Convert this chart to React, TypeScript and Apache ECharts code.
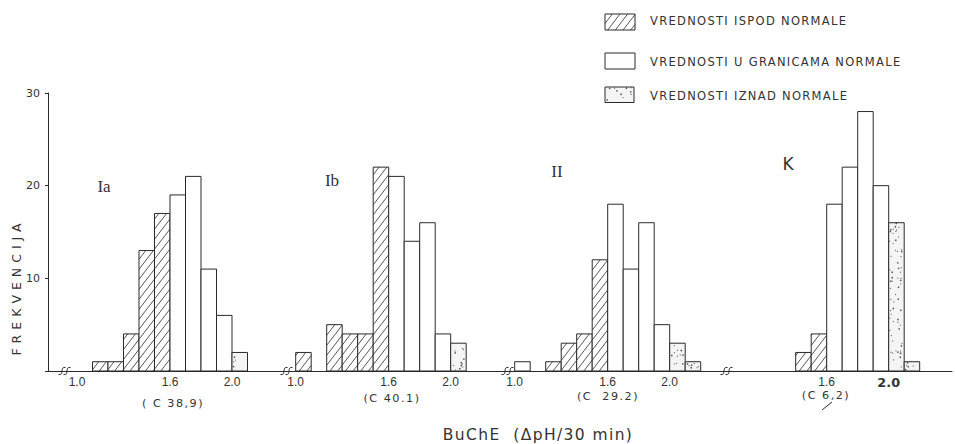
import React, { useEffect, useRef } from 'react';
import * as echarts from 'echarts';

// ---------- data ----------
const Y_TICK_VALUES = [0, 10, 20, 30];
const PANEL_NAMES = ['Ia', 'Ib', 'II', 'K'];
const PANEL_NOTES = ['( C 38,9)', '(C 40.1)', '(C  29.2)', '(C 6,2)'];
const X_TICKS_IA = [1.0, 1.6, 2.0];
const X_TICKS_IB = [1.0, 1.6, 2.0];
const X_TICKS_II = [1.0, 1.6, 2.0];
const X_TICKS_K = [1.6, 2.0];
const BIN_WIDTH = 0.1;
// class codes: 0 = below normal (hatched), 1 = within normal (white), 2 = above normal (stippled)
const BINS_IA = [1.0, 1.1, 1.2, 1.3, 1.4, 1.5, 1.6, 1.7, 1.8, 1.9, 2.0];
const FREQ_IA = [0, 1, 1, 4, 13, 17, 19, 21, 11, 6, 2];
const CLASS_IA = [0, 0, 0, 0, 0, 0, 1, 1, 1, 1, 2];
const BINS_IB = [1.0, 1.1, 1.2, 1.3, 1.4, 1.5, 1.6, 1.7, 1.8, 1.9, 2.0];
const FREQ_IB = [2, 0, 5, 4, 4, 22, 21, 14, 16, 4, 3];
const CLASS_IB = [0, 0, 0, 0, 0, 0, 1, 1, 1, 1, 2];
const BINS_II = [1.0, 1.1, 1.2, 1.3, 1.4, 1.5, 1.6, 1.7, 1.8, 1.9, 2.0, 2.1];
const FREQ_II = [1, 0, 1, 3, 4, 12, 18, 11, 16, 5, 3, 1];
const CLASS_II = [1, 0, 0, 0, 0, 0, 1, 1, 1, 1, 2, 2];
const BINS_K = [1.4, 1.5, 1.6, 1.7, 1.8, 1.9, 2.0, 2.1];
const FREQ_K = [2, 4, 18, 22, 28, 20, 16, 1];
const CLASS_K = [0, 0, 1, 1, 1, 1, 2, 2];
const LEGEND_LABELS = [
  'VREDNOSTI ISPOD NORMALE',
  'VREDNOSTI U GRANICAMA NORMALE',
  'VREDNOSTI IZNAD NORMALE',
];
const Y_NAME = 'FREKVENCIJA';
const X_NAME = 'BuChE  (ΔpH/30 min)';

// ---------- layout ----------
const W = 955;
const H = 444;
const GRID_TOP = 93;
const GRID_H = 278;
const BASE_Y = GRID_TOP + GRID_H;
const PX_PER_UNIT = 155;
const AXIS_LEFT = 48;
const AXIS_RIGHT = 952;
const PANEL_X16 = [170, 388.7, 607.7, 826.7];
const PANEL_LEFT = [AXIS_LEFT, 264.7, 483.7, 702.7];
const NAME_POS = [[104, 186], [332, 180], [557, 171], [788, 164]];
const NOTE_POS = [[173, 403], [392, 398], [608, 396], [826, 395]];
const BREAK_X = [62, 284, 505, 724];
const INK = '#2a2a2a';
const TXT = '#333';

const CSS = `
text[style*="11.5px"] { letter-spacing: 1.3px; }
text[style*="12.5px"] { letter-spacing: 5px; }
text[style*="15.5px"] { letter-spacing: 1.4px; }
text[style*="11.2px"] { letter-spacing: 1.5px; }
`;

function fract(v: number) {
  return v - Math.floor(v);
}

function hatchSegments(x0: number, y0: number, x1: number, y1: number, gap = 10, k = 1.3) {
  const segs: number[][] = [];
  const cMin = y0 + k * x0;
  const cMax = y1 + k * x1;
  for (let c = Math.ceil(cMin / gap) * gap; c < cMax; c += gap) {
    const xa = Math.max(x0, (c - y1) / k);
    const xb = Math.min(x1, (c - y0) / k);
    if (xb - xa > 0.3) segs.push([xa, c - k * xa, xb, c - k * xb]);
  }
  return segs;
}

function stipple(x0: number, y0: number, x1: number, y1: number) {
  const pts: number[][] = [];
  const step = 2.7;
  for (let yy = y0 + 1.6; yy < y1 - 1.2; yy += step) {
    for (let xx = x0 + 1.6; xx < x1 - 1.2; xx += step) {
      const h = fract(Math.sin(xx * 12.9898 + yy * 78.233) * 43758.5453);
      if (h < 0.38) {
        pts.push([xx + (fract(h * 91.7) - 0.5) * 2, yy + (fract(h * 53.3) - 0.5) * 2]);
      }
    }
  }
  return pts;
}

function patternChildren(cls: number, x0: number, y0: number, x1: number, y1: number) {
  const out: any[] = [];
  if (cls === 0) {
    hatchSegments(x0, y0, x1, y1).forEach((s) =>
      out.push({
        type: 'line',
        shape: { x1: s[0], y1: s[1], x2: s[2], y2: s[3] },
        style: { stroke: INK, lineWidth: 0.8 },
        silent: true,
      })
    );
  } else if (cls === 2) {
    stipple(x0, y0, x1, y1).forEach((p, j) =>
      out.push({
        type: 'circle',
        shape: { cx: p[0], cy: p[1], r: j % 3 === 0 ? 0.8 : 0.55 },
        style: { fill: '#555' },
        silent: true,
      })
    );
  }
  return out;
}

function renderBar(params: any, api: any) {
  const lo = api.value(0);
  const hi = api.value(1);
  const f = api.value(2);
  const cls = api.value(3);
  if (!f) return null;
  const p0 = api.coord([lo, f]);
  const p1 = api.coord([hi, 0]);
  const x0 = p0[0];
  const y0 = p0[1];
  const x1 = p1[0];
  const y1 = p1[1];
  const children: any[] = [
    {
      type: 'rect',
      shape: { x: x0, y: y0, width: x1 - x0, height: y1 - y0 },
      style: { fill: cls === 2 ? '#f4f4f4' : '#fff', stroke: 'none' },
    },
  ];
  patternChildren(cls, x0, y0, x1, y1).forEach((c) => children.push(c));
  children.push({
    type: 'rect',
    shape: { x: x0, y: y0, width: x1 - x0, height: y1 - y0 },
    style: { fill: 'none', stroke: INK, lineWidth: 1 },
  });
  return { type: 'group', children };
}

function buildOption() {
  const panels = [
    { bins: BINS_IA, freq: FREQ_IA, cls: CLASS_IA, ticks: X_TICKS_IA },
    { bins: BINS_IB, freq: FREQ_IB, cls: CLASS_IB, ticks: X_TICKS_IB },
    { bins: BINS_II, freq: FREQ_II, cls: CLASS_II, ticks: X_TICKS_II },
    { bins: BINS_K, freq: FREQ_K, cls: CLASS_K, ticks: X_TICKS_K },
  ];
  const grids: any[] = [];
  const xAxes: any[] = [];
  const yAxes: any[] = [];
  const series: any[] = [];
  panels.forEach((p, i) => {
    const left = PANEL_LEFT[i];
    const right = i < 3 ? PANEL_LEFT[i + 1] : AXIS_RIGHT;
    const width = right - left;
    const min = 1.6 - (PANEL_X16[i] - left) / PX_PER_UNIT;
    const max = 1.6 + (right - PANEL_X16[i]) / PX_PER_UNIT;
    grids.push({
      left,
      top: GRID_TOP,
      width,
      height: GRID_H,
      containLabel: false,
      outerBoundsMode: 'none',
    });
    xAxes.push({
      gridIndex: i,
      type: 'value',
      min,
      max,
      axisLine: { show: true, onZero: false, lineStyle: { color: INK, width: 1 } },
      axisTick: { show: false },
      splitLine: { show: false },
      axisLabel: {
        customValues: p.ticks,
        margin: 5,
        color: TXT,
        fontSize: 12,
        fontFamily: 'Liberation Sans',
        formatter: (v: number) => (i === 3 && Math.abs(v - 2) < 1e-6 ? '{b|2.0}' : v.toFixed(1)),
        rich: { b: { fontWeight: 'bold', fontSize: 12.8, fontFamily: 'DejaVu Sans', color: TXT } },
      },
    });
    yAxes.push({
      gridIndex: i,
      type: 'value',
      min: 0,
      max: 30,
      interval: 10,
      show: i === 0,
      axisLine: { show: true, lineStyle: { color: INK, width: 1 } },
      axisTick: { show: true, length: 3, lineStyle: { color: INK } },
      splitLine: { show: false },
      axisLabel: {
        margin: 8,
        color: TXT,
        fontSize: 11,
        fontFamily: 'DejaVu Sans',
        formatter: (v: number) => (Y_TICK_VALUES.indexOf(v) > 0 ? String(v) : ''),
      },
    });
    series.push({
      type: 'custom',
      coordinateSystem: 'cartesian2d',
      xAxisIndex: i,
      yAxisIndex: i,
      clip: false,
      encode: { x: [0, 1], y: 2 },
      renderItem: renderBar,
      data: p.bins.map((b, j) => [b, b + BIN_WIDTH, p.freq[j], p.cls[j]]),
    });
  });

  const g: any[] = [];
  // panel names
  PANEL_NAMES.forEach((n, i) => {
    g.push({
      type: 'text',
      x: NAME_POS[i][0],
      y: NAME_POS[i][1],
      style: {
        text: n,
        fill: TXT,
        fontSize: 17,
        fontFamily: n === 'K' ? 'DejaVu Sans' : 'Liberation Serif',
        align: 'center',
        verticalAlign: 'middle',
      },
    });
  });
  // notes
  PANEL_NOTES.forEach((n, i) => {
    g.push({
      type: 'text',
      x: NOTE_POS[i][0],
      y: NOTE_POS[i][1],
      style: {
        text: n,
        fill: TXT,
        fontSize: 11.2,
        fontFamily: 'DejaVu Sans',
        align: 'center',
        verticalAlign: 'middle',
      },
    });
  });
  g.push({
    type: 'line',
    shape: { x1: 822, y1: 410, x2: 832, y2: 402 },
    style: { stroke: INK, lineWidth: 1 },
  });
  // axis breaks
  BREAK_X.forEach((bx) => {
    [0, 5].forEach((d) => {
      const x = bx + d;
      g.push({
        type: 'bezierCurve',
        shape: {
          x1: x - 3.5,
          y1: BASE_Y + 3.5,
          cpx1: x + 2.5,
          cpy1: BASE_Y + 5,
          cpx2: x - 2.5,
          cpy2: BASE_Y - 5,
          x2: x + 3.5,
          y2: BASE_Y - 3.5,
        },
        style: { stroke: INK, fill: 'none', lineWidth: 1 },
      });
    });
  });
  // axis names
  g.push({
    type: 'text',
    x: 16,
    y: 287,
    rotation: Math.PI / 2,
    style: {
      text: Y_NAME,
      fill: TXT,
      fontSize: 12.5,
      fontFamily: 'DejaVu Sans',
      align: 'center',
      verticalAlign: 'middle',
    },
  });
  g.push({
    type: 'text',
    x: 538,
    y: 435,
    style: {
      text: X_NAME,
      fill: TXT,
      fontSize: 15.5,
      fontFamily: 'DejaVu Sans',
      align: 'center',
      verticalAlign: 'middle',
    },
  });
  // legend
  const legendBoxes = [
    [605, 14, 30, 16],
    [605, 53, 30, 16],
    [605, 87, 29, 15.5],
  ];
  const legendTextY = [21, 62, 95.5];
  LEGEND_LABELS.forEach((lab, i) => {
    const [bx, by, bw, bh] = legendBoxes[i];
    g.push({
      type: 'rect',
      shape: { x: bx, y: by, width: bw, height: bh },
      style: { fill: i === 2 ? '#f4f4f4' : '#fff', stroke: 'none' },
    });
    patternChildren(i, bx, by, bx + bw, by + bh).forEach((c) => g.push(c));
    g.push({
      type: 'rect',
      shape: { x: bx, y: by, width: bw, height: bh },
      style: { fill: 'none', stroke: INK, lineWidth: 1 },
    });
    g.push({
      type: 'text',
      x: 650,
      y: legendTextY[i],
      style: {
        text: lab,
        fill: TXT,
        fontSize: 11.5,
        fontFamily: 'DejaVu Sans',
        align: 'left',
        verticalAlign: 'middle',
      },
    });
  });

  return {
    animation: false,
    backgroundColor: '#ffffff',
    grid: grids,
    xAxis: xAxes,
    yAxis: yAxes,
    series,
    graphic: { elements: g },
  };
}

export default function App() {
  const ref = useRef<HTMLDivElement>(null);
  useEffect(() => {
    const chart = echarts.init(ref.current as HTMLDivElement, undefined, {
      renderer: 'svg',
      width: W,
      height: H,
    });
    chart.setOption(buildOption() as any);
    return () => chart.dispose();
  }, []);
  return (
    <>
      <style>{CSS}</style>
      <div
        ref={ref}
        style={{ position: 'fixed', left: 0, top: 0, width: W, height: H, background: '#fff' }}
      />
    </>
  );
}
